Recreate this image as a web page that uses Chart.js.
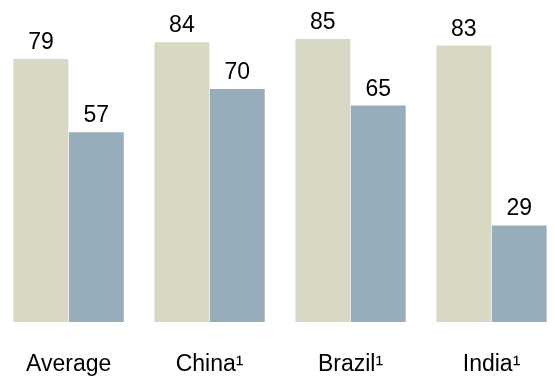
<!DOCTYPE html>
<html>
<head>
<meta charset="utf-8">
<script src="https://cdn.jsdelivr.net/npm/chart.js@4"></script>
<style>
  html, body { margin: 0; padding: 0; background: #fff; overflow: hidden; }
  #wrap { width: 565px; height: 378px; position: relative; left: -3px; }
  canvas { display: block; }
</style>
</head>
<body>
<div id="wrap"><canvas id="barChart" width="565" height="378"></canvas></div>
<script>
const categories = ['Average', 'China¹', 'Brazil¹', 'India¹'];
const firstValues = [79, 84, 85, 83];
const secondValues = [57, 70, 65, 29];

const FONT = '"Liberation Sans", Arial, sans-serif';

// write the value above each bar
const valueLabels = {
    id: 'valueLabels',
    afterDatasetsDraw(chart) {
        const ctx = chart.ctx;
        ctx.save();
        ctx.font = '23px ' + FONT;
        ctx.fillStyle = '#000';
        ctx.textAlign = 'center';
        ctx.textBaseline = 'alphabetic';
        chart.data.datasets.forEach((ds, i) => {
            chart.getDatasetMeta(i).data.forEach((bar, j) => {
                ctx.fillText(String(ds.data[j]), bar.x, bar.y - 10);
            });
        });
        ctx.restore();
    }
};

new Chart(document.getElementById('barChart').getContext('2d'), {
    type: 'bar',
    data: {
        labels: categories,
        datasets: [{
            data: firstValues,
            backgroundColor: '#d9d8c5',
            borderWidth: 0,
            categoryPercentage: 0.786,
            barPercentage: 0.99
        }, {
            data: secondValues,
            backgroundColor: '#97aeba',
            borderWidth: 0,
            categoryPercentage: 0.786,
            barPercentage: 0.99
        }]
    },
    options: {
        responsive: false,
        animation: false,
        layout: { padding: 0 },
        plugins: {
            legend: { display: false },
            tooltip: { enabled: false }
        },
        scales: {
            x: {
                grid: { display: false, drawTicks: false },
                border: { display: false },
                afterFit(scale) { scale.height = 56; },
                ticks: {
                    color: '#000',
                    padding: 29,
                    font: { family: FONT, size: 23 }
                }
            },
            y: {
                display: false,
                min: 0,
                max: 96.7
            }
        }
    },
    plugins: [valueLabels]
});
</script>
</body>
</html>
